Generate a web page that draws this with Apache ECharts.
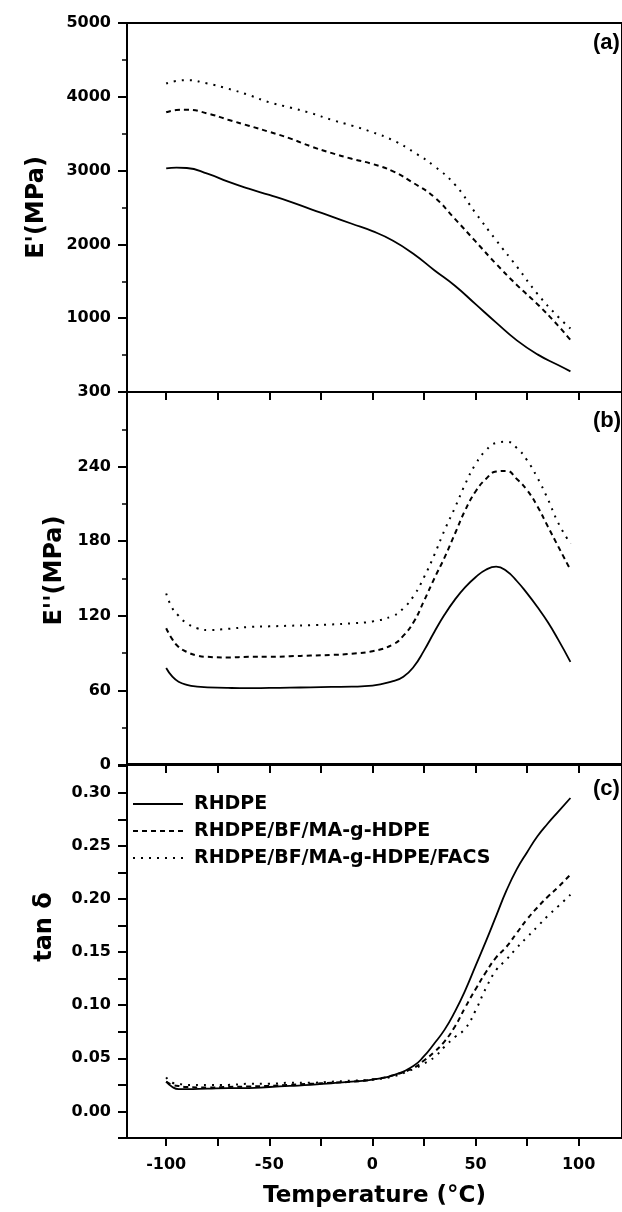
<!DOCTYPE html>
<html>
<head>
<meta charset="utf-8">
<script src="https://cdn.jsdelivr.net/npm/echarts@6/dist/echarts.min.js"></script>
<style>
html,body{margin:0;padding:0;background:#fff;}
#c{width:622px;height:1212px;}
</style>
</head>
<body>
<div id="c"></div>
<script>
// ---------- data ----------
const seriesNames = ['RHDPE', 'RHDPE/BF/MA-g-HDPE', 'RHDPE/BF/MA-g-HDPE/FACS'];

// (a) storage modulus E' (MPa)
const tempA = [-100,-95,-90,-80,-70,-60,-50,-40,-30,-20,-10,0,10,20,30,40,50,60,70,80,90,96];
const aRHDPE = [3030,3040,3035,2960,2850,2755,2670,2580,2478,2380,2280,2180,2050,1870,1650,1440,1190,940,700,510,365,280];
const aBF    = [3790,3820,3825,3775,3690,3608,3525,3437,3330,3240,3160,3090,2990,2830,2640,2345,2040,1735,1450,1190,900,705];
const aFACS  = [4180,4215,4225,4180,4110,4025,3925,3855,3780,3690,3610,3520,3410,3250,3060,2810,2425,2055,1700,1330,1020,860];

// (b) loss modulus E'' (MPa)
const tempB = [-100,-97,-94,-90,-85,-80,-70,-60,-50,-40,-30,-20,-10,0,10,15,20,25,30,35,40,45,50,55,60,65,70,75,80,85,90,96];
const bRHDPE = [78,71,67,64.5,63,62.5,62,61.8,62,62.2,62.5,62.8,63,63.8,67.5,71,79,92,107,121,133,143,151,157,159.5,156,148,138,127,115,101,83];
const bBF    = [110,101,95,91,88,87,86.5,87,87,87.5,88,88.5,89.5,91.5,97,104,115,132,150,167,186,205,220,230,236,236.5,230,221,208,192,176,157];
const bFACS  = [138,126,120,114,110,108.5,109.5,111,111.5,112,112.5,113,114,115.5,120,126,136,151,169,189,207,226,242,253,259,260,255,245,231,214,195,178];

// (c) tan delta
const tempC = [-100,-97,-94,-90,-80,-70,-60,-50,-40,-30,-20,-10,0,10,20,25,30,35,40,45,50,55,60,65,70,75,80,85,90,96];
const cRHDPE = [0.028,0.023,0.021,0.021,0.0215,0.022,0.022,0.023,0.024,0.025,0.0265,0.028,0.030,0.034,0.043,0.052,0.064,0.077,0.094,0.114,0.137,0.160,0.184,0.208,0.228,0.244,0.259,0.271,0.282,0.295];
const cBF    = [0.028,0.025,0.024,0.023,0.0225,0.023,0.0235,0.024,0.025,0.026,0.027,0.028,0.030,0.034,0.041,0.048,0.056,0.066,0.080,0.098,0.115,0.131,0.145,0.155,0.168,0.181,0.192,0.202,0.211,0.223];
const cFACS  = [0.032,0.027,0.026,0.025,0.025,0.025,0.026,0.026,0.027,0.027,0.028,0.029,0.030,0.033,0.040,0.045,0.051,0.061,0.070,0.078,0.095,0.116,0.133,0.143,0.154,0.164,0.174,0.184,0.193,0.204];

// ticks / labels
const xTicks = [-100,-75,-50,-25,0,25,50,75,100];
const xLabels = [-100,-50,0,50,100];
const cTicks = [-0.025,0,0.025,0.05,0.075,0.1,0.125,0.15,0.175,0.2,0.225,0.25,0.275,0.3,0.325];
const cLabels = [0,0.05,0.1,0.15,0.2,0.25,0.3];
const panelTags = ['(a)', '(b)', '(c)'];

// ---------- chart ----------
const FONT = 'DejaVu Sans';
const chart = echarts.init(document.getElementById('c'));
const pair = (xs, ys) => xs.map((x, i) => [x, ys[i]]);
const lineStyles = [
  {color:'#000', width:1.8, type:'solid'},
  {color:'#000', width:2, type:[5,4]},
  {color:'#000', width:2, type:[2,6]}
];
const grids = [
  {left:127, right:-12, top:23, height:369},
  {left:127, right:-12, top:392, height:373},
  {left:127, right:-12, top:764, height:374}
].map(g => Object.assign(g, {show:true, borderColor:'#000', borderWidth:2, backgroundColor:'transparent'}));

const labelStyle = {color:'#000', fontFamily:FONT, fontWeight:'bold', fontSize:16};
const nameStyle = {color:'#000', fontFamily:FONT, fontWeight:'bold', fontSize:24};

const xAxes = [0,1,2].map(i => ({
  gridIndex:i, type:'value', min:-119, max:121,
  axisLine:{onZero:false, lineStyle:{color:'#000', width:2}},
  axisTick:{show:true, customValues:xTicks, length:8, lineStyle:{color:'#000', width:2}},
  axisLabel:{show:i===2, customValues:xLabels, margin:19, ...labelStyle},
  splitLine:{show:false},
  name: i===2 ? 'Temperature (°C)' : '',
  nameLocation:'middle', nameGap:47,
  nameTextStyle:{...nameStyle, fontSize:23}
}));

const yAxes = [
  {gridIndex:0, type:'value', min:0, max:5000, interval:1000,
   axisLabel:{formatter:v => v===0 ? '' : String(v), margin:16, ...labelStyle},
   name:"E'(MPa)", nameGap:78, nameTextStyle:{...nameStyle}},
  {gridIndex:1, type:'value', min:0, max:300, interval:60,
   axisLabel:{margin:16, ...labelStyle},
   name:"E''(MPa)", nameGap:53, nameTextStyle:{...nameStyle, padding:[0,0,0,16]}},
  {gridIndex:2, type:'value', min:-0.025, max:0.327,
   axisTick:{customValues:cTicks},
   axisLabel:{customValues:cLabels, formatter:v => v.toFixed(2), margin:16, ...labelStyle},
   name:'tan δ', nameGap:70, nameTextStyle:{...nameStyle, padding:[0,0,0,48]}}
].map((y, i) => Object.assign({
  nameLocation:'middle',
  axisLine:{show:true, onZero:false, lineStyle:{color:'#000', width:2}},
  splitLine:{show:false},
  minorTick:{show:i<2, splitNumber:2, length:5, lineStyle:{color:'#000', width:1.5}}
}, y, {axisTick:Object.assign({show:true, length:9, lineStyle:{color:'#000', width:2}}, y.axisTick||{})}));

const panels = [
  [tempA, [aRHDPE, aBF, aFACS]],
  [tempB, [bRHDPE, bBF, bFACS]],
  [tempC, [cRHDPE, cBF, cFACS]]
];
const series = [];
panels.forEach(([xs, ys], p) => {
  ys.forEach((vals, k) => {
    series.push({
      type:'line', name:seriesNames[k], xAxisIndex:p, yAxisIndex:p,
      data:pair(xs, vals), symbol:'none', smooth:0.5,
      lineStyle:lineStyles[k], itemStyle:{color:'#000'}, silent:true, animation:false
    });
  });
});

chart.setOption({
  animation:false,
  backgroundColor:'#fff',
  grid:grids,
  xAxis:xAxes,
  yAxis:yAxes,
  legend:{
    data:seriesNames, orient:'vertical', left:127, top:789,
    itemWidth:50, itemHeight:14, itemGap:7,
    itemStyle:{opacity:0},
    textStyle:{color:'#000', fontFamily:FONT, fontWeight:'bold', fontSize:19, lineHeight:20, padding:[0,0,0,6]},
    selectedMode:false
  },
  graphic: panelTags.map((t, i) => ({
    type:'text', left:593, top:[32, 410, 778][i],
    style:{text:t, fill:'#000', fontFamily:'Liberation Sans', fontWeight:'bold', fontSize:22}
  })),
  series:series
});
</script>
</body>
</html>
